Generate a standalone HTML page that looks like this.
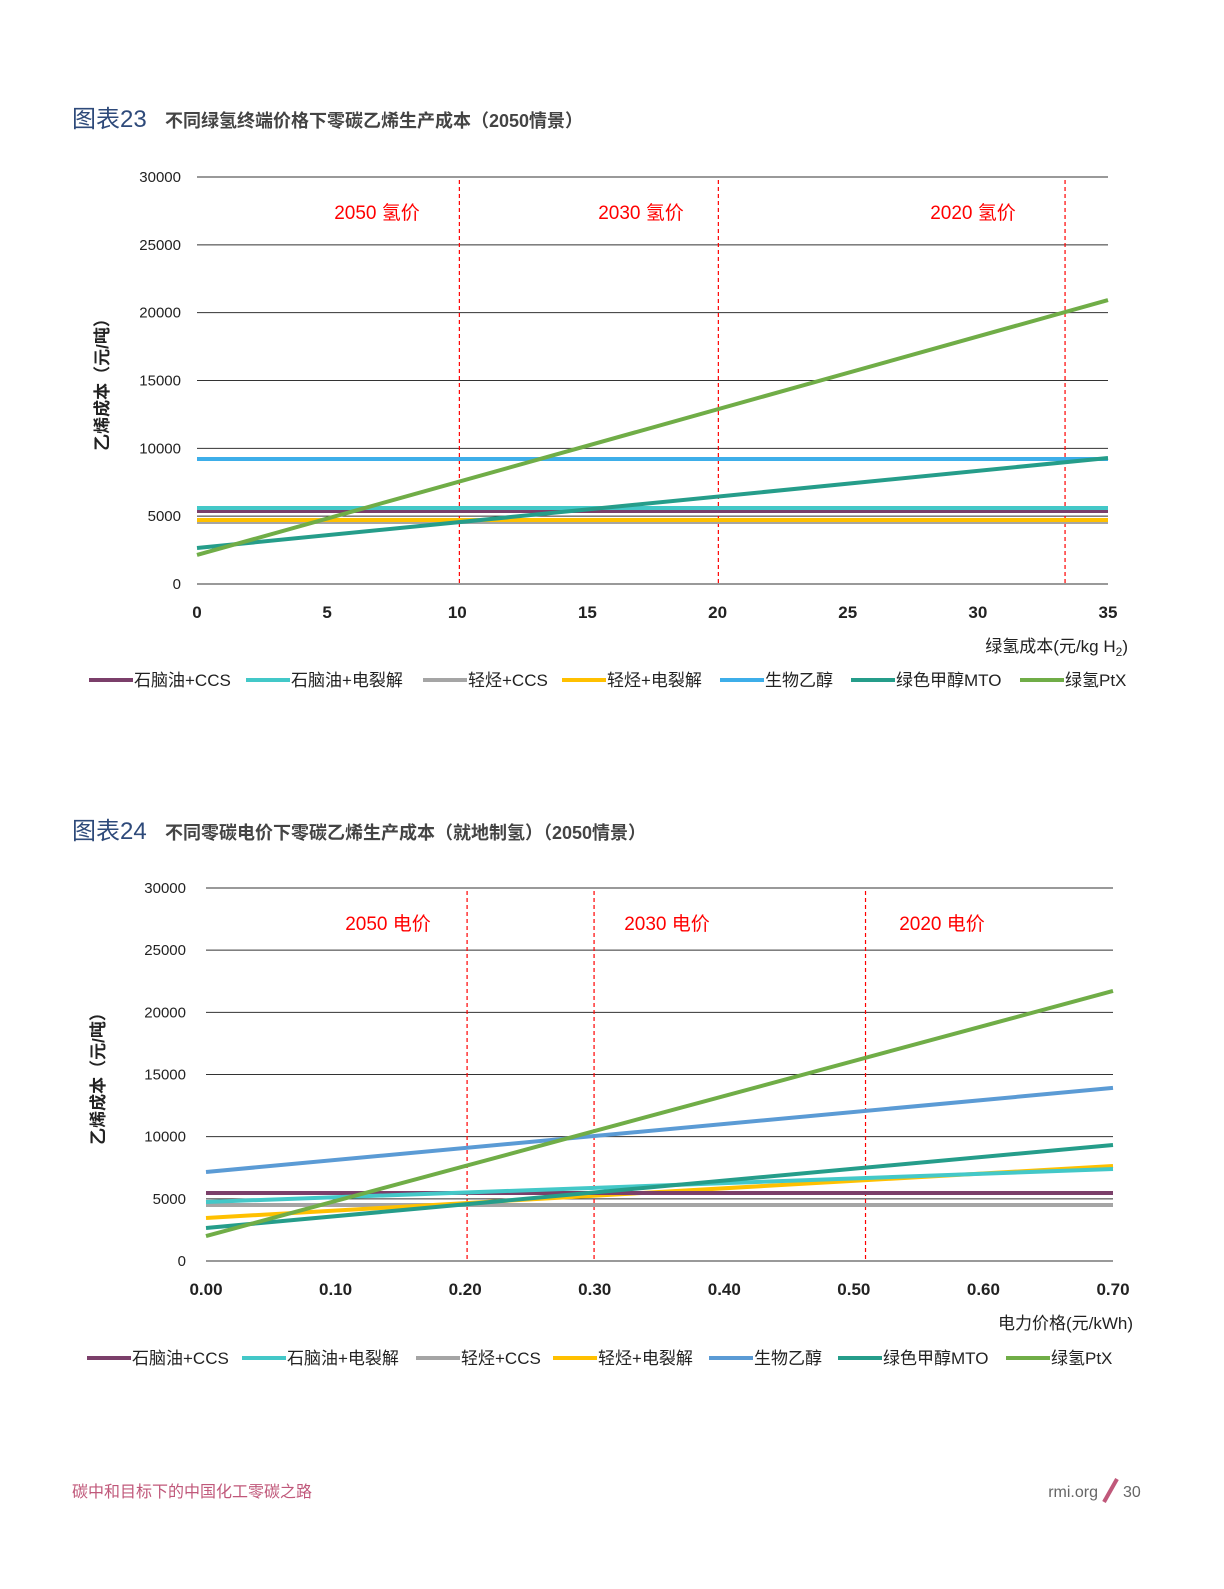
<!DOCTYPE html>
<html><head><meta charset="utf-8">
<style>
body{margin:0;background:#fff;}
svg text{font-family:"Liberation Sans","Noto Sans CJK SC",sans-serif;}
</style></head>
<body>
<svg id="page" width="1224" height="1584" viewBox="0 0 1224 1584" xmlns="http://www.w3.org/2000/svg">
<text x="72" y="127" font-size="24" fill="#2e4a7a">图表23</text>
<text x="165" y="127" font-size="18" font-weight="bold" fill="#444">不同绿氢终端价格下零碳乙烯生产成本（2050情景）</text>
<text x="72" y="839" font-size="24" fill="#2e4a7a">图表24</text>
<text x="165" y="839" font-size="18" font-weight="bold" fill="#444">不同零碳电价下零碳乙烯生产成本（就地制氢）（2050情景）</text>
<g id="c1"></g>
<g id="c2"></g>
<text x="72" y="1497" font-size="16" fill="#c0587a">碳中和目标下的中国化工零碳之路</text>
<text x="1098" y="1497" font-size="16" fill="#666" text-anchor="end">rmi.org</text>
<line x1="1104" y1="1502" x2="1117" y2="1479" stroke="#c0587a" stroke-width="4"/>
<text x="1123" y="1497" font-size="16" fill="#666">30</text>
</svg>
<script>
const seriesNames = ["石脑油+CCS","石脑油+电裂解","轻烃+CCS","轻烃+电裂解","生物乙醇","绿色甲醇MTO","绿氢PtX"];
const yTicks = [0,5000,10000,15000,20000,25000,30000];
// chart 1: x = green hydrogen cost (0..35)
const c1XTicks = [0,5,10,15,20,25,30,35];
const c1Start = [5380,5600,4570,4720,9214,2650,2140];
const c1End   = [5380,5600,4570,4720,9214,9290,20930];
const c1Markers = [10.08,20.03,33.35];
const c1MarkerLabels = ["2050 氢价","2030 氢价","2020 氢价"];
// chart 2: x = electricity price (0..0.7)
const c2XTicks = [0,0.1,0.2,0.3,0.4,0.5,0.6,0.7];
const c2Start = [5470,4750,4500,3460,7160,2650,2010];
const c2End   = [5470,7400,4500,7640,13920,9330,21720];
const c2Markers = [0.2015,0.2995,0.509];
const c2MarkerLabels = ["2050 电价","2030 电价","2020 电价"];

const NS="http://www.w3.org/2000/svg";
function mk(p,t,a){const e=document.createElementNS(NS,t);for(const k in a)e.setAttribute(k,a[k]);p.appendChild(e);return e;}

function draw(g,o){
  const sx=v=>o.x0+(v-o.xmin)/(o.xmax-o.xmin)*(o.x1-o.x0);
  const sy=v=>o.y0-v/30000*(o.y0-o.y1);
  yTicks.forEach(t=>{
    const l=mk(g,'line',{x1:o.gx0,x2:o.x1,y1:sy(t),y2:sy(t),stroke:'#333','stroke-width':1});
    
    
    const tx=mk(g,'text',{x:o.ylx,y:sy(t)+5,'font-size':15,fill:'#222','text-anchor':'end'});
    tx.textContent=t;
    
    
  });
  o.xticks.forEach(t=>{
    const tx=mk(g,'text',{x:sx(t),y:o.y0+34,'font-size':17,'font-weight':'bold',fill:'#222','text-anchor':'middle'});
    tx.textContent=o.fmt(t);
    
    
  });
  o.markers.forEach((m,i)=>{
    const l=mk(g,'line',{x1:sx(m),x2:sx(m),y1:o.y1+3,y2:o.y0,stroke:'#f00','stroke-width':1.2,'stroke-dasharray':'4,3'});
    
    
    const prev=i==0?o.xmin:o.markers[i-1];
    const tx=mk(g,'text',{x:o.mlx[i],y:o.y1+42,'font-size':19,fill:'#f00','text-anchor':'middle'});
    tx.textContent=o.mlabels[i];
    
    
  });
  const order=[2,3,0,1,4,5,6];
  order.forEach(i=>{
    const l=mk(g,'line',{x1:sx(o.xmin),y1:sy(o.s[i]),x2:sx(o.xmax),y2:sy(o.e[i]),stroke:o.colors[i],'stroke-width':4});
    
    
  });
  const xt=mk(g,'text',{x:o.x1+20,y:o.y0+68,'font-size':17,fill:'#222','text-anchor':'end'});
  xt.innerHTML=o.xtitle;
  
  
  const yc=(o.y0+o.y1)/2;
  const yt=mk(g,'text',{x:0,y:0,'font-size':17,'font-weight':'bold',fill:'#222','text-anchor':'middle',transform:`translate(${o.ytx},${yc}) rotate(-90)`});
  yt.textContent='乙烯成本（元/吨）';
  
  
  seriesNames.forEach((n,i)=>{
    const x=o.lx[i];
    const l=mk(g,'line',{x1:x,x2:x+44,y1:o.ly,y2:o.ly,stroke:o.colors[i],'stroke-width':4});
    
    
    const tx=mk(g,'text',{x:x+45,y:o.ly+6,'font-size':17,fill:'#222'});
    tx.textContent=n;
    
    
  });
}
draw(document.getElementById('c1'),{x0:197,x1:1108,gx0:197,y0:584,y1:177,xmin:0,xmax:35,ylx:181,xticks:c1XTicks,fmt:t=>t,
  markers:c1Markers,mlabels:c1MarkerLabels,mlx:[377,641,973],s:c1Start,e:c1End,
  colors:['#7b3f6a','#43c8c8','#a5a5a5','#ffc000','#3daee9','#259d8a','#70ad47'],
  xtitle:'绿氢成本(元/kg H<tspan font-size="12" dy="4">2</tspan><tspan dy="-4">)</tspan>',ytx:108,
  lx:[89,246,423,562,720,851,1020],ly:680});
draw(document.getElementById('c2'),{x0:206,x1:1113,gx0:206,y0:1261,y1:888,xmin:0,xmax:0.7,ylx:186,xticks:c2XTicks,fmt:t=>t.toFixed(2),
  markers:c2Markers,mlabels:c2MarkerLabels,mlx:[388,667,942],s:c2Start,e:c2End,
  colors:['#7b3f6a','#43c8c8','#a5a5a5','#ffc000','#5b9bd5','#259d8a','#70ad47'],
  xtitle:'电力价格(元/kWh)',ytx:104,
  lx:[87,242,416,553,709,838,1006],ly:1358});
</script>
</body></html>
